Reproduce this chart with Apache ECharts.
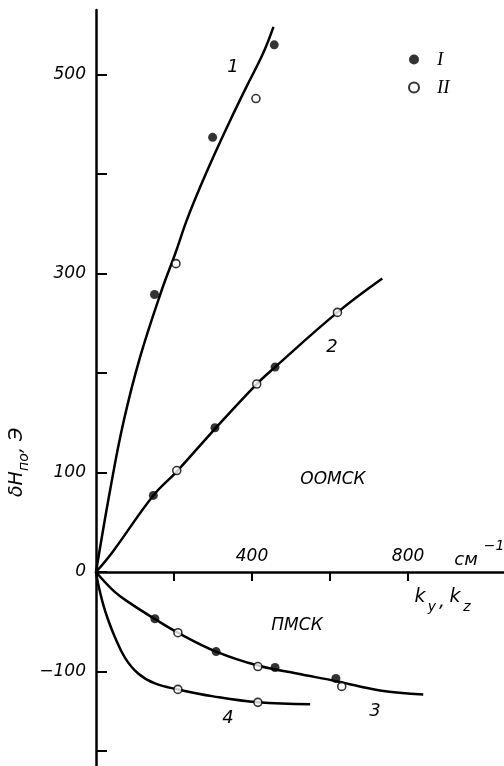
<!DOCTYPE html>
<html><head><meta charset="utf-8">
<script src="https://cdn.jsdelivr.net/npm/echarts@6/dist/echarts.min.js"></script>
<style>html,body{margin:0;padding:0;background:#fff}#c{width:504px;height:766px}</style>
</head><body><div id="c"></div>
<script>
// axis ticks and labels
const xTicks = [200, 400, 600, 800];
const xTickLabels = [400, 800];
const yTicks = [-180, -100, 0, 100, 200, 300, 400, 500];
const yTickLabels = [-100, 0, 100, 300, 500];

// fitted curves (k, δH)
const line1 = [[0,0],[36,82],[70,150],[113,216],[169,284],[203,320],[233,354],[267,387],[305,421],[344,454],[386,488],[429,522],[455,548]];
const line2 = [[0,0],[44,21],[147,77],[207,101],[305,144],[412,189],[459,206],[619,261],[734,295]];
const line3 = [[0,0],[48,-20],[90,-32],[150,-47],[210,-61],[308,-80],[415,-94],[515,-102],[620,-110],[728,-119],[839,-123]];
const line4 = [[0,0],[5,-11],[18,-32],[31,-48],[48,-65],[74,-86],[108,-102],[151,-112],[210,-118],[301,-125],[415,-131],[549,-133]];

// measured points, set I (filled) and set II (open)
const setI = [[150,279],[299,437],[457,530],[147,77],[305,145],[459,206],[151,-47],[308,-80],[459,-96],[615,-107]];
const setII = [[205,310],[410,476],[207,102],[412,189],[619,261],[210,-61],[415,-95],[630,-115],[210,-118],[415,-131]];

const FONT = 'DejaVu Sans';
const chart = echarts.init(document.getElementById('c'), null, {renderer: 'canvas'});
const lineSeries = (name, data) => ({
  name, type: 'line', data, smooth: 0.4, symbol: 'none', silent: true,
  lineStyle: {color: '#000', width: 2.5}, z: 2
});
const txt = (text, x, y, size, extra) => Object.assign({
  type: 'text', x, y,
  style: {text, fill: '#000', font: 'italic ' + size + 'px "' + FONT + '"', textAlign: 'center', textVerticalAlign: 'middle'}
}, extra || {});

chart.setOption({
  animation: false,
  backgroundColor: '#fff',
  grid: {left: 96, right: 0, top: 10, bottom: 0},
  xAxis: {
    type: 'value', min: 0, max: 1046,
    axisLine: {onZero: true, lineStyle: {color: '#000', width: 2.5}},
    axisTick: {show: true, inside: false, length: 9, lineStyle: {color: '#000', width: 2}, customValues: xTicks},
    axisLabel: {show: false},
    splitLine: {show: false}
  },
  yAxis: {
    type: 'value', min: -195, max: 565,
    axisLine: {show: true, lineStyle: {color: '#000', width: 2.5}},
    axisTick: {show: true, inside: true, length: 11, lineStyle: {color: '#000', width: 2}, customValues: yTicks},
    axisLabel: {margin: 10, customValues: yTickLabels, color: '#000', fontFamily: FONT, fontStyle: 'italic', fontSize: 17,
      formatter: v => v < 0 ? '\u2212' + Math.abs(v) : String(v)},
    splitLine: {show: false}
  },
  legend: {
    orient: 'vertical', left: 403, top: 45, itemWidth: 10, itemHeight: 10, itemGap: 9,
    icon: 'circle', data: ['I', 'II'],
    textStyle: {fontFamily: 'Liberation Serif', fontStyle: 'italic', fontSize: 19, color: '#000', padding: [0,0,0,13]}
  },
  series: [
    lineSeries('c1', line1), lineSeries('c2', line2), lineSeries('c3', line3), lineSeries('c4', line4),
    {name: 'I', type: 'scatter', data: setI, symbol: 'circle', symbolSize: 9, itemStyle: {color: '#000'}, z: 4},
    {name: 'II', type: 'scatter', data: setII, symbol: 'circle', symbolSize: 8, itemStyle: {color: '#fff', borderColor: '#000', borderWidth: 1.6}, z: 5}
  ]
});

// x tick labels sit above the zero line; place them through the axis scale
const xLabelGraphics = xTickLabels.map(v => {
  const p = chart.convertToPixel({xAxisIndex: 0, yAxisIndex: 0}, [v, 0]);
  return txt(String(v), p[0], p[1] - 15, 17);
});

chart.setOption({
  graphic: [
    txt('1', 233, 67, 18),
    txt('2', 332, 347, 18),
    txt('3', 375, 711, 18),
    txt('4', 228, 718, 18),
    txt('ООМСК', 333, 480, 17),
    txt('ПМСК', 297, 626, 17),
    txt('см', 466, 560, 18),
    txt('\u22121', 494, 546, 14),
    txt('k', 420, 597, 19),
    txt('y', 432, 607, 14),
    txt(',', 442, 602, 19),
    txt('k', 455, 597, 19),
    txt('z', 467, 607, 14),
    {type: 'group', x: 17, y: 497, rotation: Math.PI / 2, children: [
      {type: 'text', x: 0, y: 0, style: {text: 'δH', fill: '#000', font: 'italic 19px "' + FONT + '"', textAlign: 'left', textVerticalAlign: 'middle'}},
      {type: 'text', x: 26, y: 7, style: {text: 'по', fill: '#000', font: 'italic 14px "' + FONT + '"', textAlign: 'left', textVerticalAlign: 'middle'}},
      {type: 'text', x: 44, y: 0, style: {text: ', Э', fill: '#000', font: 'italic 19px "' + FONT + '"', textAlign: 'left', textVerticalAlign: 'middle'}}
    ]}
  ].concat(xLabelGraphics)
});
</script></body></html>
